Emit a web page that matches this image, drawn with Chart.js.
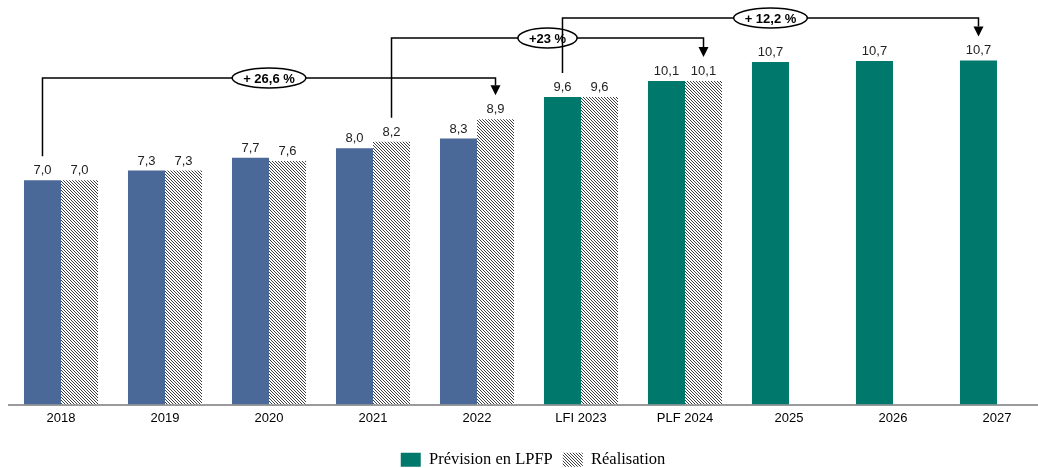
<!DOCTYPE html>
<html>
<head>
<meta charset="utf-8">
<script src="https://cdn.jsdelivr.net/npm/chart.js@4.4.0/dist/chart.umd.min.js"></script>
<style>
  html, body { margin: 0; padding: 0; background: #fff; overflow: hidden; }
  #wrap { width: 1038px; height: 468px; position: relative; overflow: hidden; }
  #c { position: absolute; left: 0; top: 0; }
</style>
</head>
<body>
<div id="wrap"><canvas id="c" width="1050" height="468"></canvas></div>
<script>
// ---- Data ----
const categories = ['2018', '2019', '2020', '2021', '2022', 'LFI 2023', 'PLF 2024', '2025', '2026', '2027'];
const previsionValues = [7.0, 7.3, 7.7, 8.0, 8.3, 9.6, 10.1, 10.69, 10.72, 10.74];
const realisationValues = [7.0, 7.3, 7.6, 8.2, 8.9, 9.6, 10.1, null, null, null];
const seriesNames = ['Prévision en LPFP', 'Réalisation'];
const executedYearsCount = 5; // 2018–2022 shown in blue
const growthLabels = ['+ 26,6 %', '+23 %', '+ 12,2 %'];
const growthFrom = [[0, 0], [3, 1], [5, 0]]; // [category index, series index]
const growthTo = [[4, 1], [6, 1], [9, 0]];

// ---- Styles ----
const BLUE = '#4a6898';
const TEAL = '#00786c';

function makeHatch() {
  const c = document.createElement('canvas');
  c.width = 3; c.height = 3;
  const g = c.getContext('2d');
  g.fillStyle = '#ffffff';
  g.fillRect(0, 0, 3, 3);
  g.fillStyle = '#404040';
  for (let i = 0; i < 3; i++) g.fillRect(i, i, 1, 1);
  return document.getElementById('c').getContext('2d').createPattern(c, 'repeat');
}
const hatch = makeHatch();

const fmt = v => v.toFixed(1).replace('.', ',');

const valueLabels = {
  id: 'valueLabels',
  afterDatasetsDraw(chart) {
    const ctx = chart.ctx;
    ctx.save();
    ctx.font = '13px "Liberation Sans", Arial, sans-serif';
    ctx.fillStyle = '#222';
    ctx.textAlign = 'center';
    ctx.textBaseline = 'bottom';
    chart.data.datasets.forEach((ds, di) => {
      const meta = chart.getDatasetMeta(di);
      meta.data.forEach((el, i) => {
        const v = ds.data[i];
        if (v === null || v === undefined) return;
        ctx.fillText(fmt(v), el.x, el.y - 3);
      });
    });
    ctx.restore();
  }
};

const growthBrackets = {
  id: 'growthBrackets',
  afterDatasetsDraw(chart, args, opts) {
    const ctx = chart.ctx;
    const top = chart.chartArea.top;
    ctx.save();
    growthLabels.forEach((label, k) => {
      const a = chart.getDatasetMeta(growthFrom[k][1]).data[growthFrom[k][0]];
      const b = chart.getDatasetMeta(growthTo[k][1]).data[growthTo[k][0]];
      const levelY = top + opts.levels[k];
      const startY = a.y - opts.gap;
      const tipY = b.y - opts.gap;
      const ah = 10, aw = 5;
      ctx.strokeStyle = '#000';
      ctx.lineWidth = 1.5;
      ctx.beginPath();
      ctx.moveTo(a.x, startY);
      ctx.lineTo(a.x, levelY);
      ctx.lineTo(b.x, levelY);
      ctx.lineTo(b.x, tipY - ah);
      ctx.stroke();
      ctx.fillStyle = '#000';
      ctx.beginPath();
      ctx.moveTo(b.x - aw, tipY - ah);
      ctx.lineTo(b.x + aw, tipY - ah);
      ctx.lineTo(b.x, tipY);
      ctx.closePath();
      ctx.fill();
      // ellipse label
      ctx.font = 'bold 13px "Liberation Sans", Arial, sans-serif';
      const tw = ctx.measureText(label).width;
      const cx = (a.x + b.x) / 2;
      const rx = tw / 2 + 11, ry = 10;
      ctx.beginPath();
      ctx.ellipse(cx, levelY, rx, ry, 0, 0, Math.PI * 2);
      ctx.fillStyle = '#fff';
      ctx.fill();
      ctx.lineWidth = 1.5;
      ctx.stroke();
      ctx.fillStyle = '#000';
      ctx.textAlign = 'center';
      ctx.textBaseline = 'middle';
      ctx.fillText(label, cx, levelY + 1);
    });
    ctx.restore();
  }
};

const legendShift = {
  id: 'legendShift',
  afterLayout(chart) {
    if (chart.legend) { chart.legend.left += 4; chart.legend.right += 4; }
  }
};

new Chart(document.getElementById('c'), {
  type: 'bar',
  data: {
    labels: categories,
    datasets: [
      {
        label: seriesNames[0],
        data: previsionValues,
        backgroundColor: previsionValues.map((v, i) => i < executedYearsCount ? BLUE : TEAL),
        borderWidth: 0,
        categoryPercentage: 0.712,
        barPercentage: 1.0
      },
      {
        label: seriesNames[1],
        data: realisationValues,
        backgroundColor: hatch,
        borderWidth: 0,
        categoryPercentage: 0.712,
        barPercentage: 1.0
      }
    ]
  },
  options: {
    responsive: false,
    animation: false,
    devicePixelRatio: 1,
    layout: { padding: { left: 9, right: 1, top: 0, bottom: -10 } },
    scales: {
      x: {
        grid: { display: false },
        border: { display: true, color: '#9a9a9a', width: 2 },
        ticks: {
          color: '#000',
          padding: -2,
          font: { family: '"Liberation Sans", Arial, sans-serif', size: 13 }
        },
        afterFit(scale) { scale.height = 37; }
      },
      y: {
        display: false,
        min: 0,
        max: 12.625
      }
    },
    plugins: {
      legend: {
        position: 'bottom',
        labels: {
          boxWidth: 20,
          boxHeight: 14,
          padding: 10,
          color: '#222',
          font: { family: '"Liberation Serif", "Times New Roman", serif', size: 16.5 },
          generateLabels() {
            return [
              { text: seriesNames[0], fillStyle: TEAL, strokeStyle: TEAL, lineWidth: 0, datasetIndex: 0, hidden: false },
              { text: seriesNames[1], fillStyle: hatch, strokeStyle: 'rgba(0,0,0,0)', lineWidth: 0, datasetIndex: 1, hidden: false }
            ];
          }
        }
      },
      tooltip: { enabled: false },
      growthBrackets: { levels: [78, 38, 18], gap: 24 }
    }
  },
  plugins: [valueLabels, growthBrackets, legendShift]
});
</script>
</body>
</html>
